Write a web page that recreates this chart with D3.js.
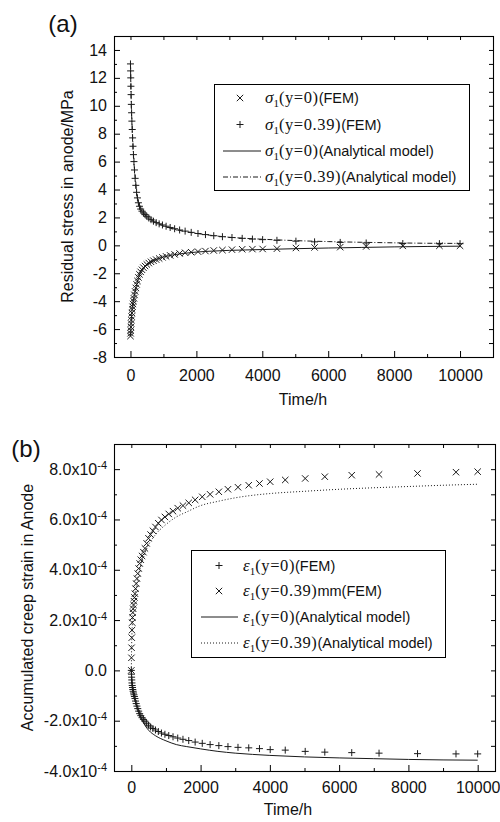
<!DOCTYPE html>
<html>
<head>
<meta charset="utf-8">
<script src="https://cdn.jsdelivr.net/npm/d3@7"></script>
<style>
body { margin: 0; background: #fff; }
svg { display: block; background: #fff; }
</style>
</head>
<body>
<svg width="500" height="822"></svg>
<script>
// FEM output times (h), same steps in both panels
var femTimes = [0, 4, 8, 13, 19, 26, 34, 43, 53, 64,
    76, 90, 105, 122, 141, 162, 186, 212, 241, 273,
    309, 349, 393, 442, 496, 556, 623, 697, 779, 870,
    970, 1081, 1204, 1340, 1491, 1658, 1843, 2048, 2275, 2527,
    2790, 3080, 3390, 3700, 4010, 4444, 5020, 5586, 6364, 7152,
    8263, 9374, 10000];

// (a) residual stress, MPa
var stressFemY0 = [-6.5, -6.3, -6.1, -5.85, -5.6, -5.35, -5.1, -4.85, -4.6, -4.4,
    -4.2, -4.0, -3.8, -3.55, -3.3, -3.05, -2.8, -2.55, -2.3, -2.08,
    -1.9, -1.75, -1.6, -1.48, -1.37, -1.27, -1.18, -1.1, -1.02, -0.94,
    -0.86, -0.79, -0.72, -0.65, -0.58, -0.53, -0.49, -0.45, -0.41, -0.37,
    -0.34, -0.31, -0.28, -0.27, -0.26, -0.24, -0.19, -0.15, -0.13, -0.08,
    -0.04, -0.03, -0.03];
var stressFemY39 = [13.0, 12.5, 12.0, 11.4, 10.8, 10.1, 9.5, 8.9, 8.3, 7.7,
    7.1, 6.5, 6.0, 5.4, 4.8, 4.3, 3.8, 3.4, 3.05, 2.8,
    2.6, 2.45, 2.32, 2.2, 2.08, 1.96, 1.84, 1.73, 1.63, 1.54,
    1.46, 1.37, 1.28, 1.19, 1.1, 1.02, 0.93, 0.85, 0.77, 0.69,
    0.62, 0.56, 0.5, 0.45, 0.41, 0.36, 0.3, 0.25, 0.21, 0.17,
    0.13, 0.12, 0.12];

var modelTimes = [0, 10, 25, 50, 75, 100, 150, 200, 300, 400, 500, 700, 1000,
    1300, 1600, 2000, 2500, 3000, 3500, 4000, 5000, 6000, 7000, 8000, 9000, 10000];
var stressModelY0 = [-6.5, -6.0, -5.35, -4.6, -4.15, -3.8, -3.2, -2.7, -1.95, -1.6, -1.38, -1.1, -0.84,
    -0.68, -0.58, -0.48, -0.41, -0.36, -0.33, -0.3, -0.24, -0.19, -0.15, -0.11, -0.08, -0.06];
var stressModelY39 = [13.0, 11.7, 10.0, 8.5, 7.2, 6.1, 4.7, 3.5, 2.65, 2.3, 2.05, 1.72, 1.4,
    1.17, 1.02, 0.86, 0.7, 0.58, 0.5, 0.44, 0.34, 0.27, 0.22, 0.18, 0.15, 0.14];

// (b) accumulated creep strain, in units of 1e-4
var strainFemY0 = [0, -0.15, -0.27, -0.38, -0.5, -0.6, -0.68, -0.76, -0.83, -0.9,
    -0.97, -1.04, -1.12, -1.22, -1.32, -1.42, -1.52, -1.62, -1.72, -1.8,
    -1.88, -1.95, -2.02, -2.1, -2.18, -2.25, -2.31, -2.37, -2.43, -2.49,
    -2.54, -2.59, -2.64, -2.69, -2.74, -2.79, -2.85, -2.9, -2.95, -2.99,
    -3.03, -3.06, -3.08, -3.11, -3.15, -3.17, -3.22, -3.25, -3.27, -3.29,
    -3.31, -3.32, -3.32];
var strainFemY39 = [0, 0.5, 0.9, 1.3, 1.6, 1.9, 2.1, 2.3, 2.45, 2.6,
    2.75, 2.9, 3.05, 3.25, 3.45, 3.65, 3.85, 4.05, 4.25, 4.4,
    4.55, 4.7, 4.85, 5.05, 5.25, 5.4, 5.55, 5.7, 5.85, 5.98,
    6.1, 6.22, 6.33, 6.45, 6.55, 6.66, 6.78, 6.9, 7.0, 7.1,
    7.2, 7.28, 7.36, 7.43, 7.5, 7.57, 7.63, 7.7, 7.76, 7.79,
    7.83, 7.88, 7.9];
var strainModelY0 = [0, -0.3, -0.55, -0.8, -1.0, -1.15, -1.4, -1.6, -1.95, -2.2, -2.38, -2.6, -2.8,
    -2.95, -3.03, -3.12, -3.22, -3.29, -3.34, -3.38, -3.44, -3.48, -3.51, -3.54, -3.56, -3.57];
var strainModelY39 = [0, 1.0, 1.7, 2.3, 2.65, 2.95, 3.4, 3.75, 4.3, 4.7, 5.0, 5.4, 5.8,
    6.1, 6.3, 6.55, 6.72, 6.86, 6.96, 7.03, 7.12, 7.2, 7.26, 7.31, 7.36, 7.4];

var timeTicks = [0, 2000, 4000, 6000, 8000, 10000];
var timeMinor = [1000, 3000, 5000, 7000, 9000];
var timeAll = [0, 1000, 2000, 3000, 4000, 5000, 6000, 7000, 8000, 9000, 10000];
var stressTicks = [-8, -6, -4, -2, 0, 2, 4, 6, 8, 10, 12, 14];
var stressMinor = [-7, -5, -3, -1, 1, 3, 5, 7, 9, 11, 13];
var strainTicks = [-4, -2, 0, 2, 4, 6, 8];
var strainMinor = [-3, -1, 1, 3, 5, 7];

var sans = '"Liberation Sans", Arial, sans-serif';
var serif = '"Liberation Serif", "Times New Roman", serif';
var ink = "#1a1a1a";

var svg = d3.select("svg");

var plusPath = "M-3.5,0H3.5M0,-3.5V3.5";
var crossPath = "M-3.2,-3.2L3.2,3.2M-3.2,3.2L3.2,-3.2";

function styleAxis(sel) {
    sel.select(".domain").remove();
    sel.attr("font-family", sans).attr("font-size", 16);
    sel.selectAll("line").attr("stroke", "#000");
    sel.selectAll("text").attr("fill", "#111");
}

function drawPanel(p) {
    var x = d3.scaleLinear().domain(p.xDomain).range([0, p.width]);
    var y = d3.scaleLinear().domain(p.yDomain).range([p.height, 0]);

    var g = svg.append("g").attr("transform", "translate(" + p.left + "," + p.top + ")");

    g.append("clipPath").attr("id", p.id + "-clip")
        .append("rect").attr("width", p.width).attr("height", p.height);

    // bottom ticks + labels
    g.append("g").attr("transform", "translate(0," + p.height + ")")
        .call(d3.axisBottom(x).tickValues(timeMinor).tickSize(-3).tickSizeOuter(0).tickFormat(""))
        .call(styleAxis);
    g.append("g").attr("transform", "translate(0," + p.height + ")")
        .call(d3.axisBottom(x).tickValues(timeTicks).tickSize(-6).tickSizeOuter(0)
            .tickPadding(p.xPad).tickFormat(d3.format("d")))
        .call(styleAxis);
    // top ticks
    g.append("g")
        .call(d3.axisTop(x).tickValues(timeAll).tickSize(-4).tickSizeOuter(0).tickFormat(""))
        .call(styleAxis);
    // left ticks + labels
    g.append("g")
        .call(d3.axisLeft(y).tickValues(p.yMinor).tickSize(-3).tickSizeOuter(0).tickFormat(""))
        .call(styleAxis);
    var yAx = g.append("g")
        .call(d3.axisLeft(y).tickValues(p.yTicks).tickSize(-6).tickSizeOuter(0)
            .tickPadding(7).tickFormat(d => String(d)))
        .call(styleAxis);
    if (p.expLabels) {
        yAx.selectAll(".tick text").each(function(d) {
            var t = d3.select(this).text(null);
            if (d === 0) {
                t.text("0.0");
            } else {
                t.append("tspan").text(d.toFixed(1) + "x10");
                t.append("tspan").attr("font-size", 11).attr("dy", "-0.55em").text("-4");
            }
        });
    }
    // right ticks
    g.append("g").attr("transform", "translate(" + p.width + ",0)")
        .call(d3.axisRight(y).tickValues(p.yRight).tickSize(-4).tickSizeOuter(0).tickFormat(""))
        .call(styleAxis);

    // frame
    g.append("rect")
        .attr("x", 0.5).attr("y", 0.5)
        .attr("width", p.width).attr("height", p.height)
        .attr("fill", "none").attr("stroke", "#000").attr("stroke-width", 1.1);

    var plot = g.append("g").attr("clip-path", "url(#" + p.id + "-clip)");

    p.lines.forEach(function(s) {
        var line = d3.line()
            .x((d, i) => x(s.t[i]))
            .y(d => y(d))
            .curve(d3.curveMonotoneX);
        plot.append("path")
            .attr("d", line(s.v))
            .attr("fill", "none")
            .attr("stroke", ink)
            .attr("stroke-width", 1)
            .attr("stroke-dasharray", s.dash);
    });

    p.points.forEach(function(s) {
        plot.append("g").selectAll("path")
            .data(s.v)
            .join("path")
            .attr("transform", (d, i) => "translate(" + x(s.t[i]) + "," + y(d) + ")")
            .attr("d", s.shape)
            .attr("fill", "none")
            .attr("stroke", ink)
            .attr("stroke-width", 1);
    });

    // axis titles
    svg.append("text")
        .attr("transform", "translate(" + p.yTitleX + "," + (p.top + p.height / 2) + ") rotate(-90)")
        .attr("text-anchor", "middle")
        .attr("font-family", sans).attr("font-size", 16).attr("fill", "#111")
        .text(p.yTitle);
    svg.append("text")
        .attr("x", p.xTitleX).attr("y", p.xTitleY)
        .attr("text-anchor", "middle")
        .attr("font-family", sans).attr("font-size", 16).attr("fill", "#111")
        .text("Time/h");
    svg.append("text")
        .attr("x", p.tagX).attr("y", p.tagY)
        .attr("text-anchor", "middle")
        .attr("font-family", sans).attr("font-size", 24).attr("fill", "#111")
        .text(p.tag);

    // legend
    var L = p.legend;
    svg.append("rect")
        .attr("x", L.x + 0.5).attr("y", L.y + 0.5)
        .attr("width", L.w).attr("height", L.h)
        .attr("fill", "#fff").attr("stroke", "#000").attr("stroke-width", 1);
    L.items.forEach(function(it, i) {
        var cy = L.rows[i];
        if (it.shape) {
            svg.append("path")
                .attr("transform", "translate(" + L.symX + "," + cy + ")")
                .attr("d", it.shape)
                .attr("fill", "none").attr("stroke", ink).attr("stroke-width", 1);
        } else {
            svg.append("line")
                .attr("x1", L.lineX[0]).attr("x2", L.lineX[1])
                .attr("y1", cy).attr("y2", cy)
                .attr("stroke", ink).attr("stroke-width", 1)
                .attr("stroke-dasharray", it.dash);
        }
        var t = svg.append("text")
            .attr("x", L.textX).attr("y", cy + 5)
            .attr("font-family", sans).attr("font-size", 14.5).attr("fill", "#111");
        t.append("tspan").attr("font-family", serif).attr("font-style", "italic")
            .attr("font-size", 17).text(it.sym);
        t.append("tspan").attr("font-family", serif).attr("font-size", 11)
            .attr("dy", 4).text("1");
        t.append("tspan").attr("font-family", serif).attr("font-size", 16.5)
            .attr("letter-spacing", 0.6).attr("dy", -4).text(it.mid);
        t.append("tspan").text(it.tail);
    });
}

drawPanel({
    id: "a", left: 114, top: 36, width: 379, height: 321,
    xDomain: [-500, 11000], yDomain: [-8, 15],
    yTicks: stressTicks, yMinor: stressMinor, yRight: d3.range(-7, 15),
    xPad: 13,
    lines: [
        { t: modelTimes, v: stressModelY0, dash: null },
        { t: modelTimes, v: stressModelY39, dash: "5,2,1,2" }
    ],
    points: [
        { t: femTimes, v: stressFemY0, shape: crossPath },
        { t: femTimes, v: stressFemY39, shape: plusPath }
    ],
    yTitle: "Residual stress in anode/MPa", yTitleX: 73,
    xTitleX: 303, xTitleY: 405,
    tag: "(a)", tagX: 63, tagY: 32,
    legend: {
        x: 214, y: 84, w: 255, h: 106,
        rows: [98, 124.5, 151, 177], symX: 240, lineX: [223, 261], textX: 265,
        items: [
            { shape: crossPath, sym: "\u03c3", mid: "(y=0)", tail: "(FEM)" },
            { shape: plusPath, sym: "\u03c3", mid: "(y=0.39)", tail: "(FEM)" },
            { dash: null, sym: "\u03c3", mid: "(y=0)", tail: "(Analytical model)" },
            { dash: "5,2,1,2", sym: "\u03c3", mid: "(y=0.39)", tail: "(Analytical model)" }
        ]
    }
});

drawPanel({
    id: "b", left: 114, top: 444, width: 381, height: 327,
    xDomain: [-500, 10500], yDomain: [-4, 9],
    yTicks: strainTicks, yMinor: strainMinor, yRight: d3.range(-3, 9),
    xPad: 11, expLabels: true,
    lines: [
        { t: modelTimes, v: strainModelY0, dash: null },
        { t: modelTimes, v: strainModelY39, dash: "1,2" }
    ],
    points: [
        { t: femTimes, v: strainFemY0, shape: plusPath },
        { t: femTimes, v: strainFemY39, shape: crossPath }
    ],
    yTitle: "Accumulated creep strain in Anode", yTitleX: 33,
    xTitleX: 288, xTitleY: 815,
    tag: "(b)", tagX: 26, tagY: 457,
    legend: {
        x: 191, y: 550, w: 254, h: 107,
        rows: [565.5, 591, 617, 643], symX: 219, lineX: [201, 238], textX: 243,
        items: [
            { shape: plusPath, sym: "\u03b5", mid: "(y=0)", tail: "(FEM)" },
            { shape: crossPath, sym: "\u03b5", mid: "(y=0.39)", tail: "mm(FEM)" },
            { dash: null, sym: "\u03b5", mid: "(y=0)", tail: "(Analytical model)" },
            { dash: "1,2", sym: "\u03b5", mid: "(y=0.39)", tail: "(Analytical model)" }
        ]
    }
});
</script>
</body>
</html>
